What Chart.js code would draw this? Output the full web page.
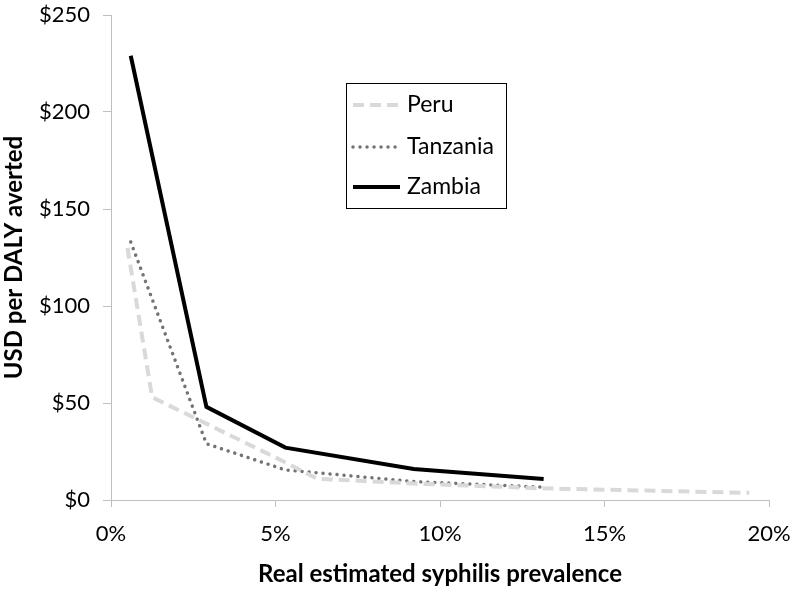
<!DOCTYPE html>
<html><head><meta charset="utf-8">
<script src="https://cdn.jsdelivr.net/npm/chart.js@4/dist/chart.umd.min.js"></script>
<style>html,body{margin:0;padding:0;background:#fff}#wrap{width:795px;height:590px}</style>
</head><body><div id="wrap"><canvas id="c" width="795" height="590"></canvas></div>
<script>
const seriesNames = ["Peru", "Tanzania", "Zambia"];
const peruX = [0.5, 1.25, 5.35, 6.26, 9.2, 13.1, 19.4];
const peruY = [130, 53, 19, 11, 8.5, 6, 3.7];
const tanzaniaX = [0.6, 2.9, 5.3, 9.2, 13.05];
const tanzaniaY = [133, 29, 15.5, 9.5, 6.7];
const zambiaX = [0.6, 2.9, 5.3, 9.2, 13.15];
const zambiaY = [229, 48, 27, 16, 10.8];
const xTicks = [0, 5, 10, 15, 20];
const yTicks = [0, 50, 100, 150, 200, 250];
const xTitle = "Real estimated syphilis prevalence";
const yTitle = "USD per DALY averted";

const FONT = "Lato, 'Open Sans', sans-serif";
const pts = (xs, ys) => xs.map((x, i) => ({x: x, y: ys[i]}));

const legendPlugin = {
  id: 'boxLegend',
  afterDraw(chart) {
    const ctx = chart.ctx;
    ctx.save();
    const bx = 346, by = 83, bw = 160, bh = 125;
    ctx.strokeStyle = '#000'; ctx.lineWidth = 1;
    ctx.strokeRect(bx + 0.5, by + 0.5, bw, bh);
    const rows = [105, 147, 187];
    chart.data.datasets.forEach((ds, i) => {
      const y = rows[i];
      ctx.beginPath();
      ctx.strokeStyle = ds.borderColor;
      ctx.lineWidth = ds.borderWidth;
      ctx.lineCap = ds.borderCapStyle || 'butt';
      ctx.setLineDash(ds.borderDash || []);
      ctx.moveTo(353, y); ctx.lineTo(400, y);
      ctx.stroke();
      ctx.setLineDash([]);
      ctx.fillStyle = '#000';
      ctx.font = "23px " + FONT;
      ctx.textBaseline = 'middle';
      ctx.textAlign = 'left';
      ctx.fillText(ds.label, 407, y);
    });
    ctx.restore();
  }
};

new Chart(document.getElementById('c'), {
  type: 'line',
  data: {
    datasets: [
      {label: seriesNames[0], data: pts(peruX, peruY), borderColor: '#d9d9d9', borderWidth: 4, borderDash: [11, 6], pointRadius: 0, fill: false, tension: 0},
      {label: seriesNames[1], data: pts(tanzaniaX, tanzaniaY), borderColor: '#737373', borderWidth: 3.5, borderDash: [0.01, 7], borderCapStyle: 'round', pointRadius: 0, fill: false, tension: 0},
      {label: seriesNames[2], data: pts(zambiaX, zambiaY), borderColor: '#000000', borderWidth: 4, pointRadius: 0, fill: false, tension: 0}
    ]
  },
  options: {
    responsive: false,
    animation: false,
    layout: {padding: {top: 15, right: 26, left: 0, bottom: 0}},
    plugins: {legend: {display: false}, tooltip: {enabled: false}},
    scales: {
      x: {
        type: 'linear', min: 0, max: 20,
        afterBuildTicks: s => { s.ticks = xTicks.map(v => ({value: v})); },
        afterFit: s => { s.height = 90; s.paddingLeft = 0; s.paddingRight = 0; },
        ticks: {callback: v => v + '%', font: {size: 22, family: FONT}, color: '#000', padding: 14, maxRotation: 0},
        grid: {drawOnChartArea: false, drawTicks: true, tickLength: 7, color: '#bfbfbf'},
        border: {color: '#bfbfbf'},
        title: {display: true, text: xTitle, font: {size: 24, weight: 'bold', family: FONT}, color: '#000', padding: {top: 6, bottom: 1}}
      },
      y: {
        type: 'linear', min: 0, max: 250,
        afterBuildTicks: s => { s.ticks = yTicks.map(v => ({value: v})); },
        afterFit: s => { s.width = 111; s.paddingTop = 0; s.paddingBottom = 0; },
        ticks: {callback: v => '$' + v, font: {size: 22, family: FONT}, color: '#000', padding: 13},
        grid: {drawOnChartArea: false, drawTicks: true, tickLength: 8, color: '#bfbfbf'},
        border: {color: '#bfbfbf'},
        title: {display: true, text: yTitle, font: {size: 24, weight: 'bold', family: FONT}, color: '#000', padding: {top: 0, bottom: 0}}
      }
    }
  },
  plugins: [legendPlugin]
});
</script></body></html>
